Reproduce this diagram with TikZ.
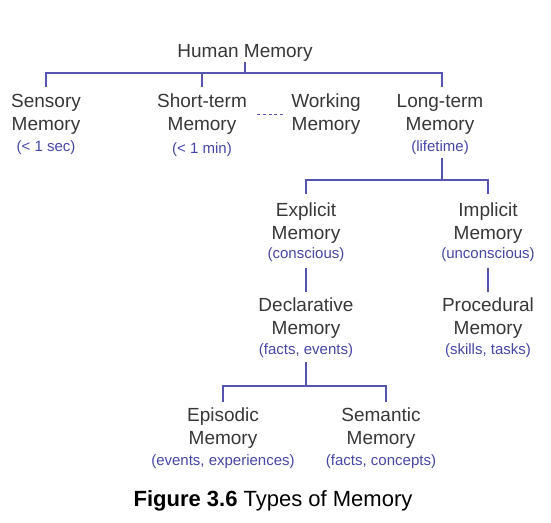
\documentclass[tikz,border=0pt]{standalone}
\usepackage{fontspec}
\setmainfont{Liberation Sans}
\definecolor{txt}{RGB}{55,55,55}
\definecolor{subc}{RGB}{70,70,165}
\definecolor{linec}{RGB}{85,85,175}
\newcommand{\subl}[1]{{\color{subc}\fontsize{15}{18}\selectfont #1}}
\begin{document}
\begin{tikzpicture}[x=1pt,y=1pt,
  mem/.style={anchor=north, inner sep=0pt, align=center, text=txt, font=\fontsize{19}{23}\selectfont},
  conn/.style={draw=linec, line width=1.2pt}]
\useasboundingbox (0,0) rectangle (551,-522);

\node[mem] (hm) at (245,-44) {Human Memory};
\node[mem] (sens) at (46,-94) {Sensory\\Memory\\[-2pt]\subl{(< 1 sec)}};
\node[mem] (st) at (202,-94) {Short-term\\Memory\\[0pt]\subl{(< 1 min)}};
\node[mem] (wm) at (326,-94) {Working\\Memory};
\node[mem] (lt) at (440,-94) {Long-term\\Memory\\[-2pt]\subl{(lifetime)}};

\node[mem] (ex) at (306,-203) {Explicit\\Memory\\[-4pt]\subl{(conscious)}};
\node[mem] (im) at (488,-203) {Implicit\\Memory\\[-4pt]\subl{(unconscious)}};
\node[mem] (dec) at (306,-298) {Declarative\\Memory\\[-3pt]\subl{(facts, events)}};
\node[mem] (pro) at (488,-298) {Procedural\\Memory\\[-3pt]\subl{(skills, tasks)}};
\node[mem] (epi) at (223,-408) {Episodic\\Memory\\[-2pt]\subl{(events, experiences)}};
\node[mem] (sem) at (381,-408) {Semantic\\Memory\\[-2pt]\subl{(facts, concepts)}};

\node[anchor=base, inner sep=0pt, font=\fontsize{22}{26}\selectfont] (cap) at (273,-506) {\textbf{Figure 3.6} Types of Memory};

% level 1
\coordinate (b1) at (0,-73);
\coordinate (lttop) at ([xshift=2pt,yshift=7pt]lt.north);
\draw[conn] ([yshift=-1pt]hm.south) -- (hm.south |- b1);
\draw[conn] ([yshift=7pt]sens.north) -- (sens.north |- b1) -- (lttop |- b1) -- (lttop);
\draw[conn] (st.north |- b1) -- ([yshift=7pt]st.north);
\draw[conn, dash pattern=on 3pt off 2.8pt] ([xshift=-8pt]wm.west) -- ([xshift=8pt]wm.west -| st.east);

% level 2
\coordinate (b2) at (0,-180);
\coordinate (ltbot) at ([xshift=2pt,yshift=-3pt]lt.south);
\draw[conn] (ltbot) -- (ltbot |- b2);
\draw[conn] ([yshift=9pt]ex.north) -- (ex.north |- b2) -- (im.north |- b2) -- ([yshift=9pt]im.north);
\draw[conn] ([yshift=-6pt]ex.south) -- ([yshift=6pt]dec.north);
\draw[conn] ([yshift=-6pt]im.south) -- ([yshift=6pt]pro.north);

% level 3
\coordinate (b3) at (0,-386);
\coordinate (semtop) at ([xshift=5pt,yshift=6pt]sem.north);
\draw[conn] ([yshift=-4pt]dec.south) -- (dec.south |- b3);
\draw[conn] ([yshift=6pt]epi.north) -- (epi.north |- b3) -- (semtop |- b3) -- (semtop);
\end{tikzpicture}
\end{document}
